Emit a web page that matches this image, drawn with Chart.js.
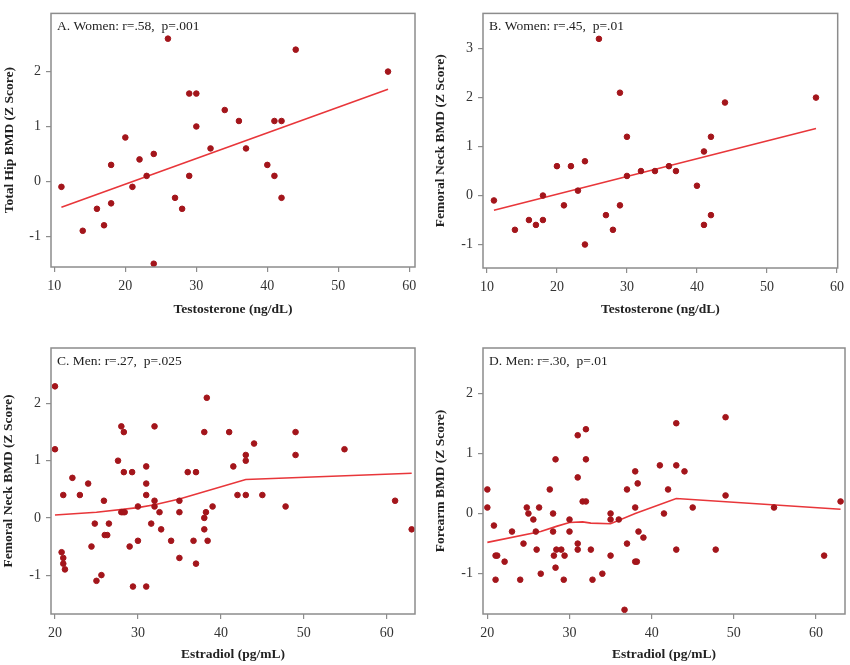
<!DOCTYPE html>
<html>
<head>
<meta charset="utf-8">
<script src="https://cdn.jsdelivr.net/npm/chart.js@4.4.1/dist/chart.umd.min.js"></script>
<style>
	body { margin: 0; background: #fff; }
	#wrap { position: relative; width: 850px; height: 665px; }
	.pnl { position: absolute; }
</style>
</head>
<body>
<div id="wrap">
	<div class="pnl" style="left:0px;top:0px;width:425px;height:325px"><canvas id="cA"></canvas></div>
	<div class="pnl" style="left:425px;top:0px;width:425px;height:325px"><canvas id="cB"></canvas></div>
	<div class="pnl" style="left:0px;top:330px;width:425px;height:335px"><canvas id="cC"></canvas></div>
	<div class="pnl" style="left:425px;top:330px;width:425px;height:335px"><canvas id="cD"></canvas></div>
</div>
<script>
// women: testosterone vs bmd
var womenT = [11,14,16,17,18,18,20,21,22,23,24,24,26,27,28,29,29,30,30,32,34,36,37,40,41,41,42,42,44,57];
var hipZ = [-0.1,-0.9,-0.5,-0.8,0.3,-0.4,0.8,-0.1,0.4,0.1,0.5,-1.5,2.6,-0.3,-0.5,1.6,0.1,1.6,1.0,0.6,1.3,1.1,0.6,0.3,1.1,0.1,1.1,-0.3,2.4,2.0];
var neckZWomen = [-0.1,-0.7,-0.5,-0.6,0.0,-0.5,0.6,-0.2,0.6,0.1,0.7,-1.0,3.2,-0.4,-0.7,2.1,-0.2,1.2,0.4,0.5,0.5,0.6,0.5,0.2,0.9,-0.6,1.2,-0.4,1.9,2.0];

// men: estradiol vs bmd
var menE_C = [20,20,21,20.8,21,21,21.2,22.1,23,24,24.4,24.8,25,25.6,25.9,26,26.3,26.5,27.6,28,28.3,28.3,28,28.2,28.4,29,29.3,29.4,30,30,31,31,31,31,31.6,32,32,32,32.6,32.8,34,35,35,35,36,36.7,37,37,38,38,38,38.3,38.2,38.4,39,41,41.5,42,43,43,43,44,45,47.8,49,49,54.9,61,63];
var neckZMen = [2.3,1.2,0.4,-0.6,-0.7,-0.8,-0.9,0.7,0.4,0.6,-0.5,-0.1,-1.1,-1.0,0.3,-0.3,-0.3,-0.1,1.0,1.6,1.5,0.8,0.1,0.1,0.1,-0.5,0.8,-1.2,0.2,-0.4,0.9,0.6,0.4,-1.2,-0.1,1.6,0.3,0.2,0.1,-0.2,-0.4,0.3,0.1,-0.7,0.8,-0.4,0.8,-0.8,1.5,0.0,-0.2,2.1,0.1,-0.4,0.2,1.5,0.9,0.4,1.1,1.0,0.4,1.3,0.4,0.2,1.5,1.1,1.2,0.3,-0.2];
var menE_D = [20,20,20.8,21,21.2,21,22.1,23,24,24.4,24.8,25,25.6,25.9,26,26.3,26.5,27.6,28,28,28.1,28.3,28.3,28.4,29,29.3,29.4,30,30,31,31,31,31,31.6,32,32,32,32.6,32.8,34,35,35,35,36,36.7,37,37,38,38,38,38.2,38.3,38.4,39,41,41.5,42,43,43,43,44,45,47.8,49,49,54.9,61,63];
var forearmZ = [0.4,0.1,-0.2,-0.7,-0.7,-1.1,-0.8,-0.3,-1.1,-0.5,0.1,0.0,-0.1,-0.3,-0.6,0.1,-1.0,0.4,0.0,-0.3,-0.7,0.9,-0.9,-0.6,-0.6,-1.1,-0.7,-0.1,-0.3,1.3,0.6,-0.5,-0.6,0.2,0.2,1.4,0.9,-0.6,-1.1,-1.0,0.0,-0.1,-0.7,-0.1,-1.6,0.4,-0.5,0.7,0.1,-0.8,-0.8,0.5,-0.3,-0.4,0.8,0.0,0.4,1.5,0.8,-0.6,0.7,0.1,-0.6,1.6,0.3,0.1,-0.7,0.2];

// fitted lines
var fitA_x = [11,57], fitA_y = [-0.47,1.68];
var fitB_x = [11,57], fitB_y = [-0.3,1.37];
var fitC_x = [20,25,30,32,35,43,63];
var fitC_y = [0.05,0.1,0.18,0.23,0.33,0.67,0.78];
var fitD_x = [20,26.5,28.5,30,31.6,32.6,35,38,43,63];
var fitD_y = [-0.48,-0.3,-0.21,-0.15,-0.14,-0.16,-0.17,0.0,0.25,0.07];

// ticks
var xTicksWomen = [10,20,30,40,50,60];
var xTicksMen = [20,30,40,50,60];
var yTicksA = [-1,0,1,2];
var yTicksB = [-1,0,1,2,3];
var yTicksMen = [-1,0,1,2];

var SERIF = "'Liberation Serif', 'Times New Roman', serif";
var DOT = "#a3151b";
var LINE = "#e8363a";
var FRAME = "#8c8c8c";

function pairs(xs, ys)
{
	var out = [];
	for (var i = 0; i < xs.length; i++)
		out.push({x: xs[i], y: ys[i]});
	return out;
}

// box round the plot area and the panel label inside it
var boxPlugin = {
	id: "box",
	afterDatasetsDraw: function(chart, args, opts)
	{
		var a = chart.chartArea, ctx = chart.ctx;
		ctx.save();
		ctx.strokeStyle = FRAME;
		ctx.lineWidth = 1.5;
		ctx.strokeRect(a.left, a.top, a.right - a.left, a.bottom - a.top);
		ctx.fillStyle = "#222";
		ctx.font = "13.5px " + SERIF;
		ctx.textBaseline = "middle";
		ctx.fillText(opts.label, a.left + 6, a.top + 13);
		ctx.restore();
	}
};

function makePanel(id, p)
{
	return new Chart(document.getElementById(id), {
		type: "scatter",
		data: {
			datasets: [
				{
					type: "line",
					data: pairs(p.fitX, p.fitY),
					borderColor: LINE,
					borderWidth: 1.6,
					pointRadius: 0,
					tension: 0,
					order: 2
				},
				{
					data: pairs(p.xs, p.ys),
					backgroundColor: DOT,
					borderColor: DOT,
					pointRadius: 2.8,
					order: 1
				}
			]
		},
		options: {
			responsive: true,
			maintainAspectRatio: false,
			animation: false,
			layout: {padding: p.pad},
			plugins: {
				legend: {display: false},
				tooltip: {enabled: false},
				box: {label: p.label}
			},
			scales: {
				x: {
					type: "linear",
					min: p.xMin, max: p.xMax,
					afterBuildTicks: function(s) { s.ticks = p.xTicks.map(function(v) { return {value: v}; }); },
					afterFit: function(s) { s.height = p.xH; },
					grid: {drawOnChartArea: false, drawTicks: true, tickLength: 5, color: FRAME, lineWidth: 1.2},
					border: {display: false},
					ticks: {color: "#333", padding: 6, font: {family: SERIF, size: 14}},
					title: {display: true, text: p.xTitle, color: "#222", padding: {top: 0, bottom: p.xTitlePad},
						font: {family: SERIF, size: 13.5, weight: "bold"}}
				},
				y: {
					min: p.yMin, max: p.yMax,
					afterBuildTicks: function(s) { s.ticks = p.yTicks.map(function(v) { return {value: v}; }); },
					afterFit: function(s) { s.width = p.yW; },
					grid: {drawOnChartArea: false, drawTicks: true, tickLength: 5, color: FRAME, lineWidth: 1.2},
					border: {display: false},
					ticks: {color: "#333", padding: 5, font: {family: SERIF, size: 14}},
					title: {display: true, text: p.yTitle, color: "#222", padding: {top: p.yTitlePad, bottom: 0},
						font: {family: SERIF, size: 13.5, weight: "bold"}}
				}
			}
		},
		plugins: [boxPlugin]
	});
}

makePanel("cA", {
	xs: womenT, ys: hipZ, fitX: fitA_x, fitY: fitA_y,
	label: "A. Women: r=.58,  p=.001",
	xTitle: "Testosterone (ng/dL)", yTitle: "Total Hip BMD (Z Score)",
	xMin: 9.53, xMax: 60.8, yMin: -1.56, yMax: 3.06,
	xTicks: xTicksWomen, yTicks: yTicksA,
	pad: {top: 2, right: 10, left: 0, bottom: 0},
	xH: 58, yW: 51, xTitlePad: 7, yTitlePad: 1
});

makePanel("cB", {
	xs: womenT, ys: neckZWomen, fitX: fitB_x, fitY: fitB_y,
	label: "B. Women: r=.45,  p=.01",
	xTitle: "Testosterone (ng/dL)", yTitle: "Femoral Neck BMD (Z Score)",
	xMin: 9.44, xMax: 60.1, yMin: -1.48, yMax: 3.72,
	xTicks: xTicksWomen, yTicks: yTicksB,
	pad: {top: 2, right: 8, left: 0, bottom: 0},
	xH: 57, yW: 58, xTitlePad: 7, yTitlePad: 7
});

makePanel("cC", {
	xs: menE_C, ys: neckZMen, fitX: fitC_x, fitY: fitC_y,
	label: "C. Men: r=.27,  p=.025",
	xTitle: "Estradiol (pg/mL)", yTitle: "Femoral Neck BMD (Z Score)",
	xMin: 19.52, xMax: 63.4, yMin: -1.68, yMax: 2.97,
	xTicks: xTicksMen, yTicks: yTicksMen,
	pad: {top: 18, right: 10, left: 0, bottom: 0},
	xH: 51, yW: 51, xTitlePad: 2, yTitlePad: 0
});

makePanel("cD", {
	xs: menE_D, ys: forearmZ, fitX: fitD_x, fitY: fitD_y,
	label: "D. Men: r=.30,  p=.01",
	xTitle: "Estradiol (pg/mL)", yTitle: "Forearm BMD (Z Score)",
	xMin: 19.47, xMax: 63.54, yMin: -1.67, yMax: 2.75,
	xTicks: xTicksMen, yTicks: yTicksMen,
	pad: {top: 18, right: 2, left: 0, bottom: 0},
	xH: 51, yW: 58, xTitlePad: 2, yTitlePad: 7
});
</script>
</body>
</html>
